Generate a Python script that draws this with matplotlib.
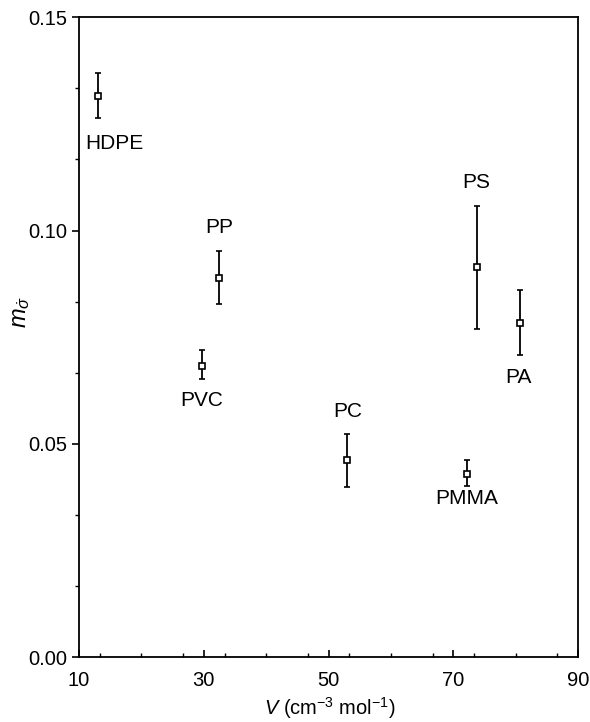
import matplotlib
matplotlib.use("Agg")
from matplotlib import pyplot as plt
from matplotlib.ticker import MultipleLocator

plt.rcParams['font.family'] = ['Liberation Sans', 'DejaVu Sans']
plt.rcParams['mathtext.fontset'] = 'custom'
plt.rcParams['mathtext.it'] = 'Liberation Sans:italic'
plt.rcParams['mathtext.rm'] = 'Liberation Sans'

# polymer data
names = ["HDPE", "PP", "PVC", "PC", "PS", "PA", "PMMA"]
volume = [13.0, 32.5, 29.7, 53.0, 73.7, 80.6, 72.2]
m_sigma = [0.1315, 0.0889, 0.0683, 0.0462, 0.0915, 0.0783, 0.0430]
err_low = [0.0052, 0.0062, 0.0031, 0.0064, 0.0146, 0.0074, 0.0029]
err_high = [0.0054, 0.0062, 0.0036, 0.0060, 0.0143, 0.0077, 0.0032]

# label offsets in points from each point
offsets = [(12, -34), (0, 36), (0, -25), (0, 35), (0, 61), (-1, -39), (0, -18)]

x_ticks = [10, 30, 50, 70, 90]
y_ticks = [0.00, 0.05, 0.10, 0.15]

fig = plt.figure(figsize=(5.9, 7.22), dpi=100)
ax = fig.add_axes([0.134, 0.090, 0.846, 0.886])

ax.errorbar(volume, m_sigma, yerr=[err_low, err_high], fmt='s', ms=4,
            mfc='white', mec='black', mew=1.2, ecolor='black', elinewidth=1.3,
            capsize=2.5, capthick=1.3, color='black')

for name, x, y, off in zip(names, volume, m_sigma, offsets):
    ax.annotate(name, (x, y), xytext=off, textcoords='offset points',
                ha='center', va='center', fontsize=15)

ax.set_xlim(10, 90)
ax.set_ylim(0, 0.15)
ax.set_xticks(x_ticks)
ax.set_yticks(y_ticks)
ax.set_yticklabels(["%.2f" % t for t in y_ticks])
ax.xaxis.set_minor_locator(MultipleLocator(20 / 3))
ax.yaxis.set_minor_locator(MultipleLocator(0.05 / 3))
ax.tick_params(axis='x', which='both', direction='in', labelsize=14.5, pad=10)
ax.tick_params(axis='y', which='both', direction='out', labelsize=14.5)
ax.tick_params(which='major', length=5, width=1.2)
ax.tick_params(which='minor', length=3, width=1)
for s in ax.spines.values():
    s.set_linewidth(1.3)

ax.set_xlabel("$V$ (cm$^{-3}$ mol$^{-1}$)", fontsize=14.5)
ax.xaxis.set_label_coords(0.503, -0.06)
ax.set_ylabel(r"$m_{\dot{\sigma}}$", fontsize=17)
ax.yaxis.set_label_coords(-0.094, 0.54)

fig.savefig("out.png", dpi=100)
